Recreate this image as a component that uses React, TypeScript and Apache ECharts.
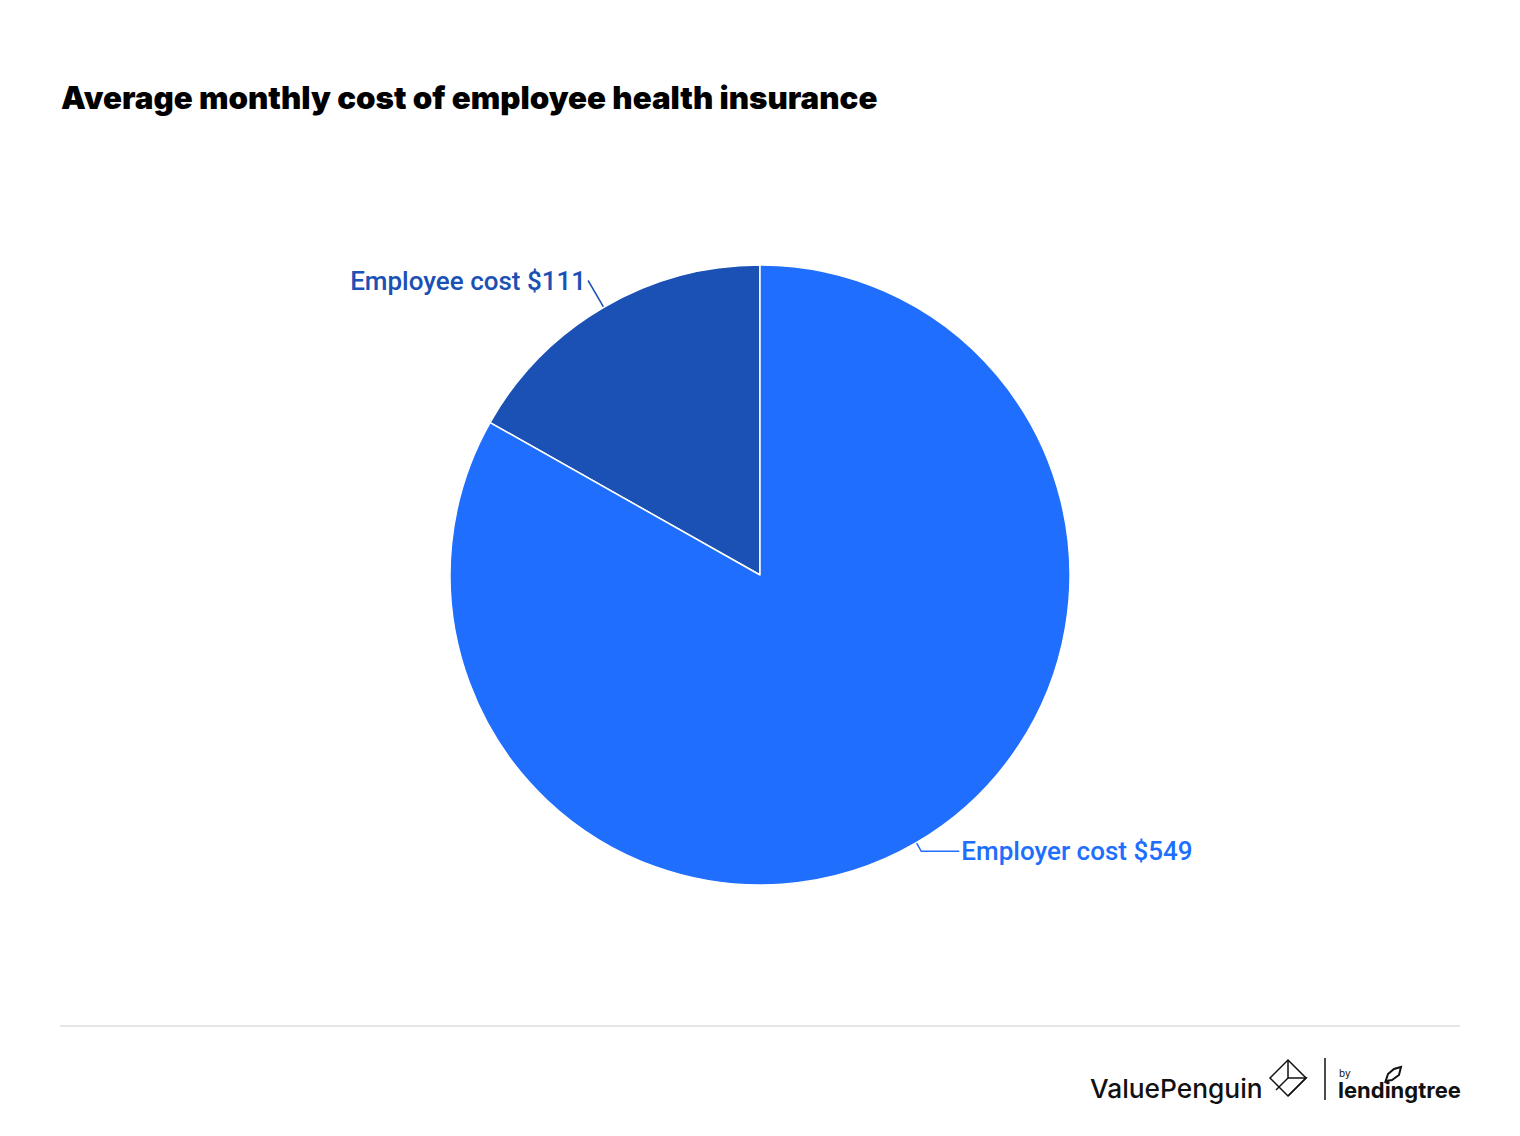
import React, { useEffect, useRef } from "react";
import * as echarts from "echarts";

const categories = ["Employee cost", "Employer cost"];
const values = [111, 549];
const colors = ["#1b50b4", "#206efd"];

const TITLE = "Average monthly cost of employee health insurance";

export default function App() {
  const ref = useRef<HTMLDivElement>(null);
  useEffect(() => {
    const chart = echarts.init(ref.current!, null, { renderer: "svg" });
    const lineLens = [
      { length: 31, length2: 0 },
      { length: 10, length2: 38 },
    ];
    const data = categories.map((c, i) => ({
      name: c,
      value: values[i],
      itemStyle: { color: colors[i] },
      label: { color: colors[i] },
      labelLine: { ...lineLens[i], lineStyle: { color: colors[i] } },
    }));
    chart.setOption({
      animation: false,
      backgroundColor: "#ffffff",
      title: {
        text: TITLE,
        left: 61,
        top: 82,
        padding: 0,
        textStyle: {
          fontFamily: "Inter",
          fontWeight: 900,
          fontSize: 31.3,
          color: "#000",
        },
      },
      series: [
        {
          type: "pie",
          center: [760, 575],
          radius: 310,
          startAngle: 90,
          clockwise: false,
          data,
          itemStyle: { borderColor: "#ffffff", borderWidth: 1.5 },
          label: {
            show: true,
            formatter: (p: any) => `${p.name} $${p.value}`,
            fontFamily: "Roboto",
            fontSize: 26,
            fontWeight: 500,
            distanceToLabelLine: 2,
          },
          labelLine: { show: true, lineStyle: { width: 1.5 } },
        },
      ],
      graphic: [
        {
          type: "line",
          shape: { x1: 60, y1: 1026, x2: 1460, y2: 1026 },
          style: { stroke: "#dcdcdc", lineWidth: 1.5 },
        },
        {
          type: "text",
          x: 1090,
          y: 1088,
          style: {
            text: "ValuePenguin",
            fontFamily: "Inter",
            fontSize: 26.3,
            fontWeight: 500,
            fill: "#111",
            verticalAlign: "middle",
          },
        },
        {
          type: "polygon",
          shape: { points: [[1288, 1060], [1306, 1078], [1288, 1096], [1270, 1078]] },
          style: { fill: "none", stroke: "#111", lineWidth: 1.5 },
        },
        {
          type: "polyline",
          shape: { points: [[1288, 1060], [1288, 1078], [1306, 1078], [1288, 1096]] },
          style: { fill: "none", stroke: "#111", lineWidth: 1.5 },
        },
        {
          type: "line",
          shape: { x1: 1288, y1: 1078, x2: 1276, y2: 1090 },
          style: { stroke: "#111", lineWidth: 1.5 },
        },
        {
          type: "line",
          shape: { x1: 1325, y1: 1058, x2: 1325, y2: 1100 },
          style: { stroke: "#111", lineWidth: 1.5 },
        },
        {
          type: "text",
          x: 1339,
          y: 1073,
          style: {
            text: "by",
            fontFamily: "Inter",
            fontSize: 10,
            fill: "#111",
            verticalAlign: "middle",
          },
        },
        {
          type: "text",
          x: 1338,
          y: 1090,
          style: {
            text: "lendingtree",
            fontFamily: "Inter",
            fontSize: 22,
            fontWeight: 700,
            fill: "#111",
            verticalAlign: "middle",
            letterSpacing: -1.2,
          },
        },
        {
          type: "polyline",
          shape: {
            points: [[1385, 1083], [1388, 1074], [1394, 1069], [1401, 1067], [1399, 1075], [1392, 1080], [1386, 1081]],
          },
          style: { fill: "none", stroke: "#111", lineWidth: 2 },
        },
      ],
    });
    return () => chart.dispose();
  }, []);
  return (
    <div
      ref={ref}
      style={{ position: "fixed", left: 0, top: 0, width: 1520, height: 1136 }}
    />
  );
}
